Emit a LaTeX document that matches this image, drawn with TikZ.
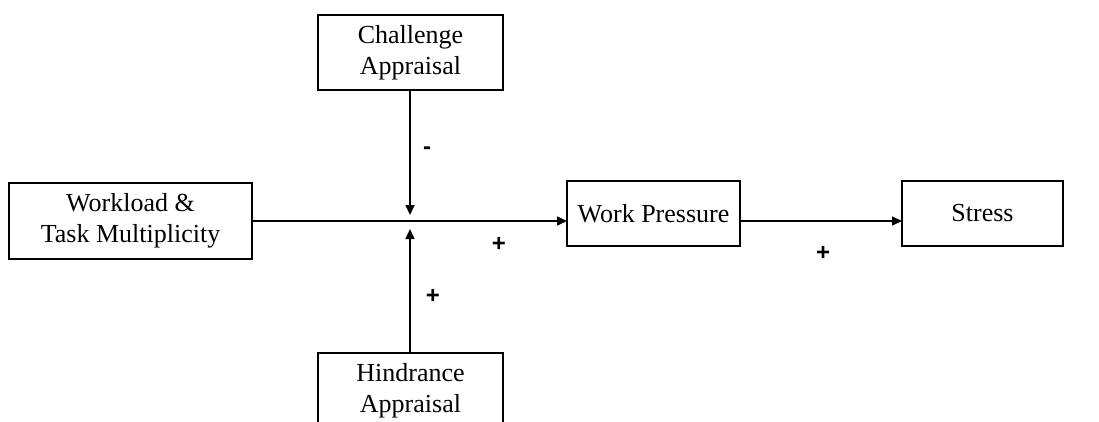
\documentclass[tikz,border=0pt]{standalone}
\usepackage{fontspec}
\setmainfont{Liberation Serif}
\newfontfamily\plusfont{Liberation Sans}
\usetikzlibrary{arrows.meta}
\begin{document}
\begin{tikzpicture}[x=1pt,y=-1pt,
  box/.style={draw, line width=1.5pt, inner sep=0pt, align=center,
    font=\fontsize{26}{31}\selectfont},
  conn/.style={line width=1.5pt, -{Triangle[length=10pt,width=9pt]}},
  sign/.style={font=\plusfont\bfseries\fontsize{24}{24}\selectfont, inner sep=0pt}]
\useasboundingbox (0,0) rectangle (1099,421);
\clip (0,0) rectangle (1099,421);
\node[box, minimum width=185pt, minimum height=75pt] (challenge) at (410.5,52.5) {Challenge\\Appraisal};
\node[box, minimum width=243pt, minimum height=76pt] (workload) at (130.5,221) {Workload \&\\Task Multiplicity};
\node[box, minimum width=185pt, minimum height=75pt] (hindrance) at (410.5,390.5) {Hindrance\\Appraisal};
\node[box, minimum width=173pt, minimum height=65pt] (wp) at (653.5,213.5) {Work Pressure};
\node[box, minimum width=161pt, minimum height=65pt] (stress) at (982.5,213.5) {Stress};
\coordinate (jt) at (410,215);
\coordinate (jb) at (410,229);
\coordinate (wpin) at (567,221);
\coordinate (wpout) at (740,221);
\coordinate (stin) at (902,221);
\draw[conn] (workload.east) -- (wpin);
\draw[conn] (wpout) -- (stin);
\draw[conn] (challenge.south -| jt) -- (jt);
\draw[conn] (hindrance.north -| jb) -- (jb);
\node[sign] (m1) at (427,151) {-};
\node[sign] (p1) at (433,296) {+};
\node[sign] (p2) at (499,244) {+};
\node[sign] (p3) at (823,253) {+};
\end{tikzpicture}
\end{document}
